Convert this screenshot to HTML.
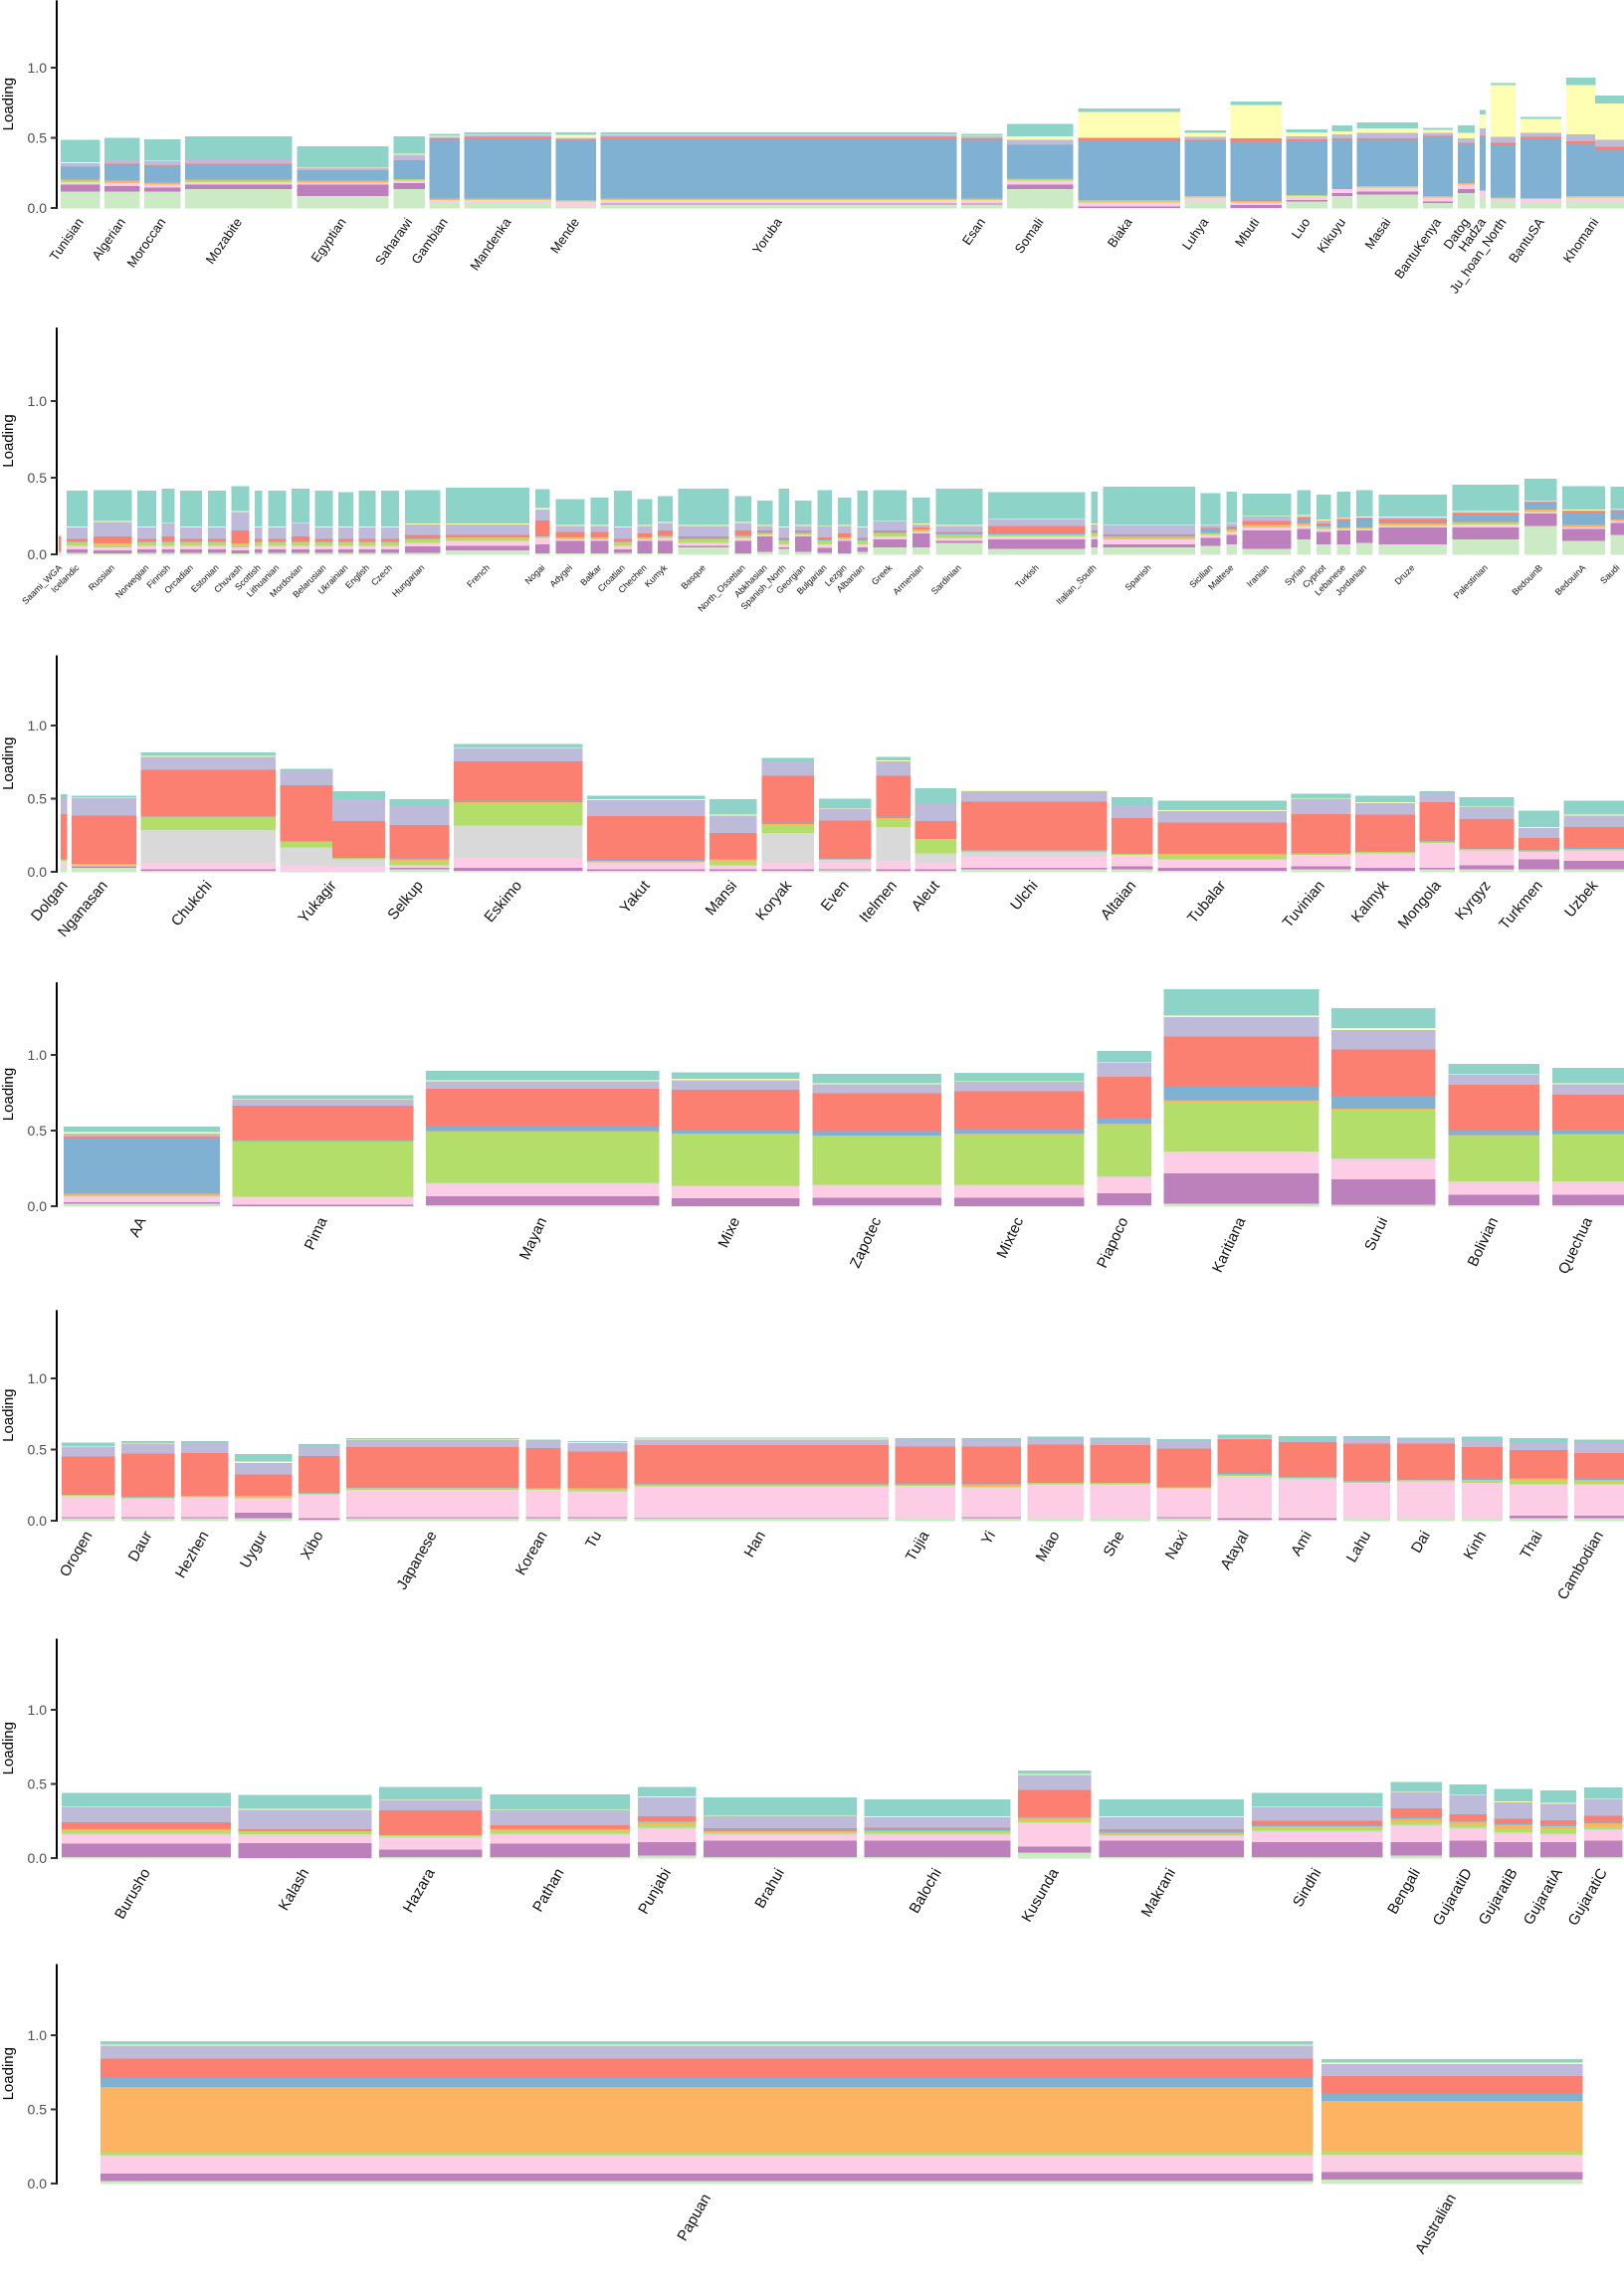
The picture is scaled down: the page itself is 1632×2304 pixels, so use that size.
<!DOCTYPE html>
<html><head><meta charset="utf-8">
<style>
html,body{margin:0;padding:0;background:#fff;}
svg{display:block;font-family:"Liberation Sans",Arial,sans-serif;}
</style></head>
<body>
<svg id="chart" xmlns="http://www.w3.org/2000/svg" width="1632" height="2304" viewBox="0 0 1632 2304"></svg>
<script>
const componentColors = ['#ccebc5','#bc80bd','#fccde5','#d9d9d9','#b3de69','#fdb462','#80b1d3','#fb8072','#bebada','#ffffb3','#8dd3c7'];
const yTicks = [0, 0.5, 1.0];
const yTickLabels = ['0.0','0.5','1.0'];

// Panel 1 - Africa / North Africa
const p1Names = ['Tunisian','Algerian','Moroccan','Mozabite','Egyptian','Saharawi','Gambian','Mandenka','Mende','Yoruba','Esan','Somali','Biaka','Luhya','Mbuti','Luo','Kikuyu','Masai','BantuKenya','Datog','Hadza','Ju_hoan_North','BantuSA','Khomani'];
const p1Sizes = [39,35,36,107,92,31,30,87,40,357,41,66,102,41,51,41,20,61,30,17,6,25,41,58];
const p1Values = [
[[.12,.05,.02,0,.01,.005,.09,.005,.025,.005,.155]],
[[.12,.04,.02,0,.01,.01,.11,.01,.03,0,.15]],
[[.12,.03,.02,0,.005,.01,.12,.005,.03,.005,.145]],
[[.14,.03,.02,0,.01,.005,.11,.005,.04,0,.15]],
[[.09,.08,.015,0,.005,.01,.07,.005,.015,.005,.145]],
[[.14,.04,.02,0,.01,0,.13,.005,.04,.005,.12]],
[[.04,0,.02,0,0,.01,.42,.01,.01,.01,.01]],
[[.04,0,.02,0,.005,.005,.43,.01,.015,.005,.01]],
[[.02,0,.03,0,.005,.005,.43,.005,.01,.02,.015]],
[[.03,.005,.025,0,.005,.005,.43,.01,.015,.005,.01]],
[[.03,.005,.025,0,.005,.005,.42,.01,.015,.005,.01]],
[[.14,.03,.03,0,.01,.005,.235,.005,.035,.025,.085]],
[[.005,.01,.03,0,.005,.01,.42,.025,0,.185,.02]],
[[.05,0,.03,0,.01,0,.39,.01,.02,.03,.015]],
[[.005,.02,.02,0,0,.01,.42,.025,0,.24,.02]],
[[.05,.01,.03,0,.005,0,.39,.01,.02,.03,.015]],
[[.09,.02,.03,0,0,0,.35,.01,.03,.02,.04]],
[[.1,.02,.03,0,.01,0,.33,.01,.04,.03,.04]],
[[.04,.01,.03,0,0,.01,.42,.01,.02,.02,.01]],
[[.11,.03,.03,0,0,.01,.28,.01,.03,.04,.05]],
[[.08,0,.05,0,0,0,.38,.01,.05,.1,.03]],
[[.05,0,.02,0,.01,0,.37,.02,.04,.37,.01]],
[[.04,0,.03,0,0,0,.43,.01,.03,.1,.01]],
[[.05,0,.03,0,.01,0,.37,.02,.05,.35,.05],[.05,0,.03,0,.01,0,.33,.02,.05,.26,.05]]
];

// Panel 2 - Europe / Middle East
const p2Names = ['Saami_WGA','Icelandic','Russian','Norwegian','Finnish','Orcadian','Estonian','Chuvash','Scottish','Lithuanian','Mordovian','Belarusian','Ukrainian','English','Czech','Hungarian','French','Nogai','Adygei','Balkar','Croatian','Chechen','Kumyk','Basque','North_Ossetian','Abkhasian','Spanish_North','Georgian','Bulgarian','Lezgin','Albanian','Greek','Armenian','Sardinian','Turkish','Italian_South','Spanish','Sicilian','Maltese','Iranian','Syrian','Cypriot','Lebanese','Jordanian','Druze','Palestinian','BedouinB','BedouinA','Saudi'];
const p2Sizes = [2,20,37,18,12,21,17,17,7,17,17,17,14,16,17,34,81,14,28,17,17,14,14,49,16,15,10,16,14,13,10,32,17,45,94,6,89,19,10,47,13,14,13,16,66,64,31,41,13];
const p2Values = [
[[.02,0,0,0,0,0,0,.1,0,0,0]],
[[.015,.02,.025,0,.02,.005,.005,.015,.075,.005,.23]],
[[.01,.02,.02,0,.02,.005,.005,.04,.095,.005,.2]],
[[.015,.02,.025,0,.02,.005,.005,.015,.075,.005,.23]],
[[.015,.02,.025,0,.02,.005,.005,.03,.085,.005,.22]],
[[.015,.02,.025,0,.02,.005,.005,.015,.075,.005,.23]],
[[.015,.02,.025,0,.02,.005,.005,.015,.075,.005,.23]],
[[.01,.02,.02,0,.02,.005,.005,.08,.12,.005,.16]],
[[.015,.02,.025,0,.02,.005,.005,.015,.075,.005,.23]],
[[.015,.02,.025,0,.02,.005,.005,.015,.075,.005,.23]],
[[.015,.02,.025,0,.02,.005,.005,.03,.085,.005,.22]],
[[.015,.02,.025,0,.02,.005,.005,.015,.075,.005,.23]],
[[.015,.02,.025,0,.02,.005,.005,.015,.075,.005,.22]],
[[.015,.02,.025,0,.02,.005,.005,.015,.075,.005,.23]],
[[.015,.02,.025,0,.02,.005,.005,.015,.075,.005,.23]],
[[.015,.04,.025,0,.02,.005,.005,.02,.07,.005,.215]],
[[.03,.03,.03,0,.02,.005,.005,.01,.07,.005,.23]],
[[.01,.06,.04,0,.01,0,.005,.1,.07,.01,.12]],
[[.01,.08,.01,0,.01,.005,.005,.03,.04,.005,.165]],
[[.01,.08,.01,0,.01,.005,.005,.03,.04,.005,.175]],
[[.015,.02,.025,0,.02,.005,.005,.015,.075,.005,.23]],
[[.01,.08,.01,0,.01,.005,.005,.02,.05,.005,.165]],
[[.01,.08,.02,0,.01,.005,.005,.03,.05,.005,.165]],
[[.05,.01,.02,0,.02,.005,.005,.01,.07,.005,.235]],
[[.01,.08,.02,0,.01,.005,.005,.03,.05,.005,.165]],
[[.02,.1,.01,0,.01,.005,.005,.01,.03,.005,.155]],
[[.04,.01,.02,0,.02,.005,.005,.01,.07,.005,.245]],
[[.02,.1,.01,0,.01,.005,.005,.01,.03,.005,.155]],
[[.015,.03,.025,0,.02,.005,.005,.015,.07,.005,.23]],
[[.01,.08,.01,0,.01,.005,.005,.02,.05,.005,.175]],
[[.02,.03,.02,0,.02,.005,.005,.01,.07,.005,.23]],
[[.05,.05,.02,0,.02,.005,.005,.01,.06,.005,.195]],
[[.05,.09,.01,0,.01,.005,.005,.01,.02,.005,.165]],
[[.08,.01,.02,0,.02,.005,.005,.01,.04,.005,.235]],
[[.04,.06,.02,0,.01,.005,.005,.05,.04,.005,.17]],
[[.05,.05,.02,0,.02,.005,.005,.01,.04,.005,.205]],
[[.05,.02,.03,0,.01,.01,.005,.01,.06,.005,.24]],
[[.06,.05,.02,0,.01,.005,.02,.01,.02,.005,.2]],
[[.07,.06,.02,0,.01,.005,.01,.01,.02,.005,.2]],
[[.04,.12,.02,0,.01,.005,.005,.02,.03,.005,.14]],
[[.1,.07,.02,0,.005,.01,.03,.01,.01,.005,.16]],
[[.07,.08,.02,0,.01,.005,.01,.01,.02,.005,.16]],
[[.07,.09,.01,0,.005,.005,.04,.01,.01,.005,.165]],
[[.08,.08,.01,0,.005,.005,.05,.01,.005,.005,.17]],
[[.07,.11,.01,0,.01,.005,.01,.02,.01,.005,.14]],
[[.1,.08,.02,0,.005,.01,.05,.01,.005,.005,.17]],
[[.19,.08,.01,0,.005,.01,.04,.01,.005,.005,.14]],
[[.09,.08,.01,0,.005,.01,.08,.01,.005,.005,.15]],
[[.13,.08,.01,0,.005,.005,.05,.01,.005,.005,.14]]
];

// Panel 3 - Siberia / Central Asia
const p3Names = ['Dolgan','Nganasan','Chukchi','Yukagir','Selkup','Eskimo','Yakut','Mansi','Koryak','Even','Itelmen','Aleut','Ulchi','Altaian','Tubalar','Tuvinian','Kalmyk','Mongola','Kyrgyz','Turkmen','Uzbek'];
const p3Sizes = [6,64,134,104,59,128,117,47,52,52,34,41,145,41,128,59,59,35,54,40,60];
const p3Values = [
[[.04,0,.04,0,.01,0,0,.31,.11,0,.02]],
[[.03,.01,.01,0,0,.01,0,.33,.12,.005,.005]],
[[.01,.01,.05,.22,.08,.01,.01,.31,.09,.005,.02]],
[[.01,0,.04,.12,.04,0,.005,.38,.1,0,.01],[.01,0,.03,.05,.01,0,0,.25,.15,0,.05]],
[[.02,.01,.02,0,.03,.01,.005,.23,.13,0,.04]],
[[.01,.02,.07,.22,.15,.01,.01,.27,.09,.005,.02]],
[[.01,.01,.05,0,0,.01,.005,.3,.11,.005,.02]],
[[.01,.01,.03,0,.03,.01,0,.18,.12,.005,.1]],
[[.01,.01,.05,.2,.05,.01,.01,.32,.1,0,.02]],
[[.015,.005,.05,.02,0,0,.005,.26,.08,.005,.06]],
[[.01,.01,.06,.23,.05,.01,.01,.28,.1,.005,.02]],
[[.01,.01,.05,.06,.1,0,0,.12,.12,0,.1]],
[[.02,.01,.08,.03,.005,.005,.005,.33,.07,.005,0]],
[[.02,.02,.08,0,.005,0,.005,.24,.09,0,.05]],
[[.01,.02,.06,0,.03,.005,.005,.21,.08,.005,.06]],
[[.02,.02,.08,0,.005,.005,0,.27,.1,.005,.03]],
[[.01,.02,.1,0,.01,0,.005,.25,.08,.005,.04]],
[[.02,.01,.17,0,.01,0,.01,.26,.06,0,.01]],
[[.02,.03,.1,0,.01,0,.005,.2,.08,.005,.06]],
[[.02,.07,.05,0,.01,0,.005,.08,.07,.005,.11]],
[[.02,.06,.07,0,.01,0,.01,.14,.08,.005,.09]]
];

// Panel 4 - Americas
const p4Names = ['AA','Pima','Mayan','Mixe','Zapotec','Mixtec','Piapoco','Karitiana','Surui','Bolivian','Quechua'];
const p4Sizes = [156,181,233,128,129,130,54,155,104,91,72];
const p4Values = [
[[.02,.01,.03,.01,.005,.01,.37,.01,.02,.01,.03]],
[[.005,.01,.05,0,.37,0,.005,.23,.04,.005,.02]],
[[.01,.06,.08,.01,.33,.01,.03,.25,.05,.005,.06]],
[[.005,.05,.08,.005,.34,.005,.02,.27,.06,.01,.04]],
[[.01,.05,.08,.005,.32,.005,.03,.25,.06,.005,.06]],
[[.005,.055,.08,.005,.33,.01,.03,.25,.06,.005,.05]],
[[.01,.08,.1,.01,.34,.01,.04,.27,.09,.005,.07]],
[[.02,.2,.14,.005,.33,.01,.09,.33,.13,.01,.17]],
[[.015,.165,.13,.01,.32,.01,.08,.31,.13,.01,.13]],
[[.01,.07,.08,.01,.3,.005,.03,.3,.07,.005,.06]],
[[.01,.07,.08,.01,.31,0,.03,.23,.07,.005,.1]]
];

// Panel 5 - East Asia
const p5Names = ['Oroqen','Daur','Hezhen','Uygur','Xibo','Japanese','Korean','Tu','Han','Tujia','Yi','Miao','She','Naxi','Atayal','Ami','Lahu','Dai','Kinh','Thai','Cambodian'];
const p5Sizes = [53,53,47,57,41,173,35,60,255,60,59,56,60,54,54,58,47,58,41,58,50];
const p5Values = [
[[.02,.01,.14,.01,.005,0,0,.27,.07,.005,.02]],
[[.02,.01,.13,0,.01,0,.005,.3,.07,.005,.01]],
[[.02,.01,.14,0,.01,0,0,.3,.07,0,.01]],
[[.02,.04,.1,0,.01,.01,0,.15,.08,.01,.05]],
[[.01,.01,.17,0,.005,0,.005,.26,.07,0,.01]],
[[.02,.01,.19,0,.01,.005,.005,.28,.05,.005,.005]],
[[.02,.01,.19,0,.01,0,.005,.28,.05,0,.005]],
[[.02,.01,.18,0,.02,0,0,.26,.06,.005,.005]],
[[.02,.005,.22,0,.01,.005,.005,.27,.04,.005,.005]],
[[.02,0,.23,0,.01,0,.005,.26,.05,0,.005]],
[[.02,.01,.21,0,.01,.01,.005,.26,.05,0,.005]],
[[.02,0,.24,0,.01,0,0,.27,.04,0,.01]],
[[.02,0,.24,0,.01,0,.005,.26,.04,0,.01]],
[[.02,.01,.2,0,.01,0,0,.27,.06,0,.005]],
[[.01,.01,.29,.01,.01,0,.01,.24,0,.005,.02]],
[[.01,.01,.27,.01,.01,0,.005,.24,.01,0,.03]],
[[.02,0,.25,0,.01,0,.005,.26,.04,0,.01]],
[[.02,0,.26,0,.01,0,.005,.25,.03,0,.01]],
[[.02,0,.25,0,.02,0,.01,.22,.05,0,.02]],
[[.02,.02,.22,0,.03,.01,0,.2,.05,0,.03]],
[[.02,.02,.22,0,.02,.01,.01,.18,.07,0,.02]]
];

// Panel 6 - South Asia
const p6Names = ['Burusho','Kalash','Hazara','Pathan','Punjabi','Brahui','Balochi','Kusunda','Makrani','Sindhi','Bengali','GujaratiD','GujaratiB','GujaratiA','GujaratiC'];
const p6Sizes = [169,133,103,140,58,153,146,73,145,131,51,37,38,36,38];
const p6Values = [
[[.01,.09,.06,.01,.02,.01,.005,.04,.1,.005,.09]],
[[.005,.1,.05,.01,.02,0,.005,.01,.13,.005,.09]],
[[.01,.05,.08,.01,.01,0,.005,.16,.07,.005,.08]],
[[.01,.09,.06,.01,.02,.01,.005,.02,.1,.005,.1]],
[[.02,.09,.09,.01,.02,.02,.005,.03,.13,.005,.06]],
[[.01,.11,.04,.01,.01,.005,.01,.01,.08,.005,.12]],
[[.01,.11,.04,.01,.02,0,.01,.01,.07,.005,.11]],
[[.04,.04,.16,.005,.01,.02,.01,.18,.1,.005,.02]],
[[.01,.11,.03,.01,.01,.005,.02,.005,.08,.005,.11]],
[[.01,.1,.07,.01,.02,.01,.005,.03,.09,.005,.09]],
[[.02,.09,.11,.01,.02,.02,.01,.06,.11,.005,.06]],
[[.01,.11,.08,.01,.02,.02,.01,.04,.13,.005,.06]],
[[.01,.1,.06,.01,.02,.03,.01,.03,.11,.005,.08]],
[[.01,.1,.05,.01,.03,.02,.01,.03,.11,.005,.08]],
[[.01,.11,.07,.01,.02,.02,.01,.04,.11,.005,.07]]
];

// Panel 7 - Oceania
const p7Names = ['Papuan','Australian'];
const p7Sizes = [1218,262];
const p7Values = [
[[.02,.05,.12,.005,.02,.44,.06,.13,.09,.005,.02]],
[[.03,.05,.11,.01,.02,.34,.05,.12,.08,.01,.02]]
];

const panels = [
 {names:p1Names,sizes:p1Sizes,values:p1Values,x0:61,x1:1632,gap:5,zero:209,unit:141,fs:13,rot:-55},
 {names:p2Names,sizes:p2Sizes,values:p2Values,x0:59,x1:1632,gap:6,zero:557,unit:154,fs:9,rot:-45},
 {names:p3Names,sizes:p3Sizes,values:p3Values,x0:61,x1:1632,gap:5,zero:876,unit:147,fs:15,rot:-50},
 {names:p4Names,sizes:p4Sizes,values:p4Values,x0:64,x1:1632,gap:13,zero:1212,unit:152,fs:15,rot:-65},
 {names:p5Names,sizes:p5Sizes,values:p5Values,x0:62,x1:1632,gap:7,zero:1528,unit:143,fs:15,rot:-60},
 {names:p6Names,sizes:p6Sizes,values:p6Values,x0:62,x1:1630,gap:8,zero:1867,unit:149,fs:15,rot:-60},
 {names:p7Names,sizes:p7Sizes,values:p7Values,x0:101,x1:1590,gap:9,zero:2194,unit:149,fs:15,rot:-60}
];

const NS = 'http://www.w3.org/2000/svg';
const svg = document.getElementById('chart');
function mk(tag, attrs, parent){
  const e = document.createElementNS(NS, tag);
  for (const k in attrs) e.setAttribute(k, attrs[k]);
  parent.appendChild(e);
  return e;
}
const AXIS_X = 57;

panels.forEach((p, pi) => {
  const g = mk('g', {}, svg);
  
  
  const yScale = v => p.zero - v * p.unit;
  const total = p.sizes.reduce((a,b)=>a+b,0);
  const avail = p.x1 - p.x0 - p.gap * (p.sizes.length - 1);
  const xStarts = [];
  let cx = p.x0;
  p.sizes.forEach(s => { xStarts.push(cx); cx += s / total * avail + p.gap; });
  const xScale = i => xStarts[i];
  const wScale = i => p.sizes[i] / total * avail;

  p.names.forEach((name, i) => {
    const gx = xScale(i), gw = wScale(i);
    const grp = mk('g', {'shape-rendering':'crispEdges'}, g);
    
    
    const rows = p.values[i];
    const rw = gw / rows.length;
    rows.forEach((comps, ri) => {
      let acc = 0;
      comps.forEach((v, ci) => {
        if (v <= 0) return;
        const yTop = yScale(acc + v), yBot = yScale(acc);
        const r = mk('rect', {x:(gx + ri*rw).toFixed(2), y:yTop.toFixed(2), width:(rw+0.3).toFixed(2), height:(yBot-yTop+0.6).toFixed(2), fill:componentColors[ci]}, grp);
        
        
        acc += v;
      });
    });
    const lx = gx + gw/2 + p.fs*0.3, ly = p.zero + 14;
    const t = mk('text', {x:lx.toFixed(1), y:ly.toFixed(1), 'font-size':p.fs, 'text-anchor':'end', fill:'#111', transform:'rotate(' + p.rot + ' ' + lx.toFixed(1) + ' ' + ly.toFixed(1) + ')'}, g);
    
    
    t.textContent = name;
  });

  const top = p.zero - 1.48 * p.unit;
  const ax = mk('line', {x1:AXIS_X, x2:AXIS_X, y1:Math.max(0, top), y2:p.zero+1, stroke:'#000', 'stroke-width':2}, g);
  
  
  yTicks.forEach((tv, ti) => {
    const y = yScale(tv);
    const tk = mk('line', {x1:AXIS_X-6, x2:AXIS_X, y1:y, y2:y, stroke:'#333', 'stroke-width':2}, g);
    
    
    const tl = mk('text', {x:AXIS_X-10, y:y+5, 'font-size':14, 'text-anchor':'end', fill:'#4d4d4d'}, g);
    
    
    tl.textContent = yTickLabels[ti];
  });
  const ly = p.zero - 0.74 * p.unit;
  const yt = mk('text', {x:13, y:ly, 'font-size':15, 'text-anchor':'middle', fill:'#000', transform:'rotate(-90 13 ' + ly + ')'}, g);
  
  
  yt.textContent = 'Loading';
});
</script>
</body></html>
